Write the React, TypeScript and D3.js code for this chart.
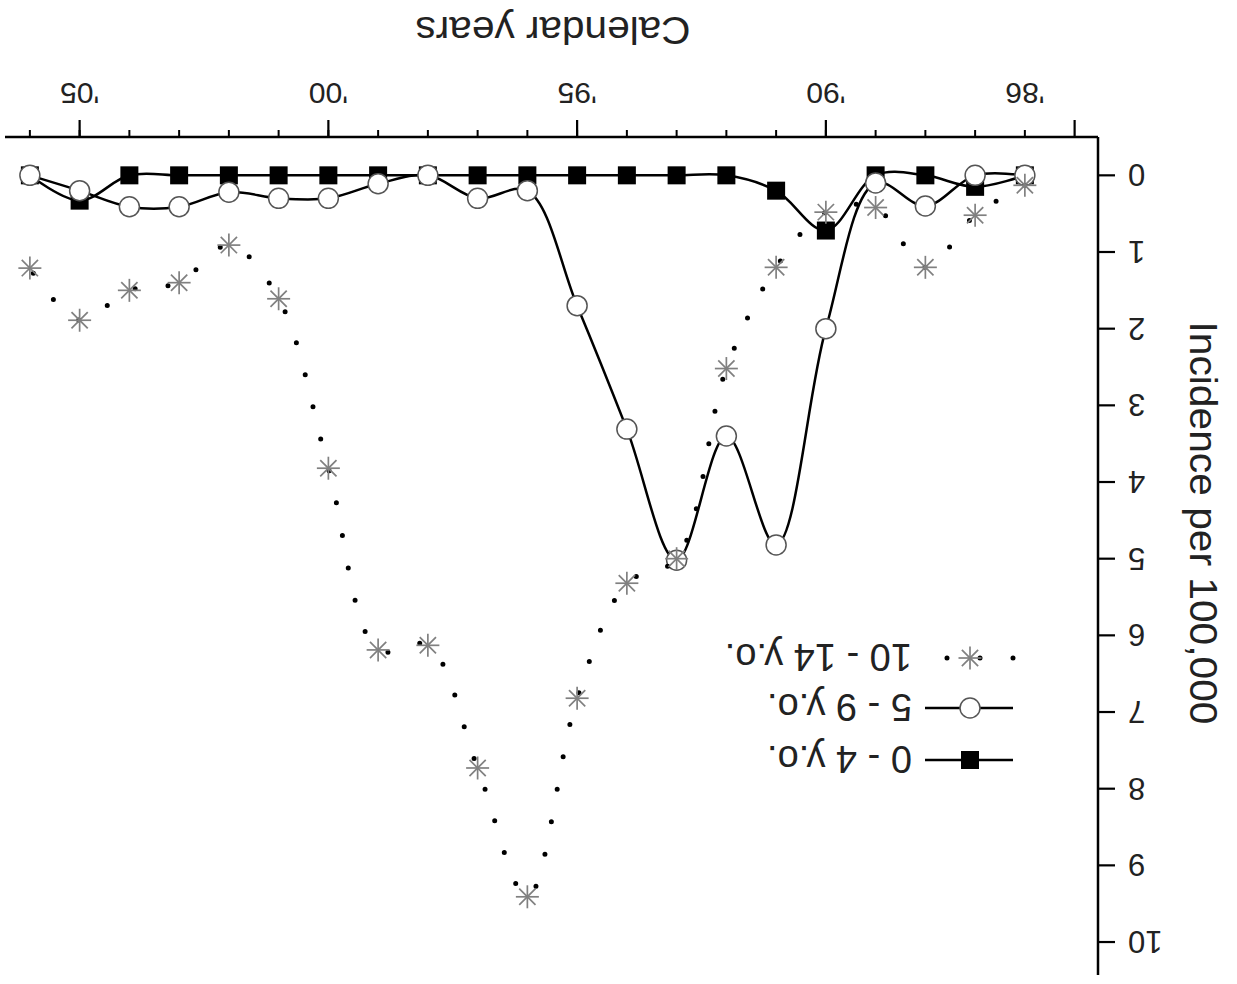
import React from "react";
import * as d3 from "d3";

const years = [1986, 1987, 1988, 1989, 1990, 1991, 1992, 1993, 1994, 1995, 1996, 1997, 1998, 1999, 2000, 2001, 2002, 2003, 2004, 2005, 2006];
const age0to4 = [0, 0.15, 0, 0, 0.72, 0.2, 0, 0, 0, 0, 0, 0, 0, 0, 0, 0, 0, 0, 0, 0.33, 0];
const age5to9 = [0, 0, 0.4, 0.1, 2.0, 4.82, 3.4, 5.02, 3.31, 1.7, 0.2, 0.3, 0, 0.11, 0.3, 0.3, 0.22, 0.41, 0.41, 0.2, 0];
const age10to14 = [0.13, 0.52, 1.2, 0.42, 0.48, 1.2, 2.52, 5.0, 5.32, 6.82, 9.41, 7.73, 6.13, 6.19, 3.82, 1.61, 0.91, 1.4, 1.5, 1.89, 1.21];

const majorTickYears = [1985, 1990, 1995, 2000, 2005];
const minorTickYears = d3.range(1986, 2007);
const xLabelYears = [1986, 1990, 1995, 2000, 2005];
const xLabels = ["'86", "'90", "'95", "'00", "'05"];
const yTicks = [0, 1, 2, 3, 4, 5, 6, 7, 8, 9, 10];
const legendLabels = ["0 - 4 y.o.", "5 - 9 y.o.", "10 - 14 y.o."];

const W = 1237;
const H = 984;
const FONT = "'Liberation Sans', Arial, Helvetica, sans-serif";

function Star({ cx, cy, r }: { cx: number; cy: number; r: number }) {
  const arms = [0, 45, 90, 135].map((a) => {
    const rad = (a * Math.PI) / 180;
    const dx = Math.cos(rad) * r;
    const dy = Math.sin(rad) * r;
    return <line key={a} x1={cx - dx} y1={cy - dy} x2={cx + dx} y2={cy + dy} />;
  });
  return <g stroke="#808080" strokeWidth={1.7}>{arms}</g>;
}

export default function App() {
  const x = d3.scaleLinear().domain([1984.53, 2006.5]).range([139, 1232]);
  const y = d3.scaleLinear().domain([-0.5, 10.43]).range([847, 9]);

  const lineGen = d3
    .line<[number, number]>()
    .x((d) => x(d[0]))
    .y((d) => y(d[1]))
    .curve(d3.curveCatmullRom.alpha(0.5));

  const pts = (vals: number[]) => years.map((yr, i) => [yr, vals[i]] as [number, number]);

  const p0 = pts(age0to4);
  const p1 = pts(age5to9);
  const p2 = pts(age10to14);

  const axisY = y.range()[0];
  const axisX = x.range()[0];

  const legendRows = [224, 276, 326];
  const legSymX = 267;
  const legLineX1 = 224;
  const legLineX2 = 312;
  const legTextX = 325;

  return (
    <svg
      width={W}
      height={H}
      style={{ position: "absolute", left: 0, top: 0, background: "#fff" }}
      fontFamily={FONT}
    >
      <rect x={0} y={0} width={W} height={H} fill="#fff" />
      <g transform={`rotate(180 ${W / 2} ${H / 2})`}>
        {/* axes */}
        <line x1={axisX} y1={axisY} x2={x.range()[1]} y2={axisY} stroke="#000" strokeWidth={2.5} />
        <line x1={axisX} y1={axisY} x2={axisX} y2={y.range()[1]} stroke="#000" strokeWidth={2.5} />
        {minorTickYears.map((yr) => (
          <line key={"mn" + yr} x1={x(yr)} x2={x(yr)} y1={axisY} y2={axisY + 7} stroke="#000" strokeWidth={2} />
        ))}
        {majorTickYears.map((yr) => (
          <line key={"mj" + yr} x1={x(yr)} x2={x(yr)} y1={axisY} y2={axisY + 17} stroke="#000" strokeWidth={2.2} />
        ))}
        {xLabelYears.map((yr, i) => (
          <text key={"xl" + yr} x={x(yr)} y={901} textAnchor="middle" fontSize={30} fill="#222">
            {xLabels[i]}
          </text>
        ))}
        {yTicks.map((t) => (
          <g key={"yt" + t}>
            <line x1={axisX - 17} x2={axisX} y1={y(t)} y2={y(t)} stroke="#000" strokeWidth={2.2} />
            <text x={109} y={y(t)} dy="0.36em" textAnchor="end" fontSize={31} fill="#222">
              {t}
            </text>
          </g>
        ))}
        <text
          x={684}
          y={954}
          textAnchor="middle"
          dominantBaseline="central"
          fontSize={38}
          textLength={275}
          lengthAdjust="spacingAndGlyphs"
          fill="#222"
        >
          Calendar years
        </text>
        <text
          transform={`translate(34 461) rotate(-90)`}
          textAnchor="middle"
          dominantBaseline="central"
          fontSize={38}
          textLength={403}
          lengthAdjust="spacingAndGlyphs"
          fill="#222"
        >
          Incidence per 100,000
        </text>

        {/* 0-4 */}
        <path d={lineGen(p0) || ""} fill="none" stroke="#000" strokeWidth={2.5} />
        {p0.map((d, i) => (
          <rect key={"sq" + i} x={x(d[0]) - 9} y={y(d[1]) - 9} width={18} height={18} fill="#000" />
        ))}
        {/* 5-9 */}
        <path d={lineGen(p1) || ""} fill="none" stroke="#000" strokeWidth={2.5} />
        {p1.map((d, i) => (
          <circle key={"ci" + i} cx={x(d[0])} cy={y(d[1])} r={10} fill="#fff" stroke="#555" strokeWidth={1.5} />
        ))}
        {/* 10-14 */}
        <path
          d={lineGen(p2) || ""}
          fill="none"
          stroke="#000"
          strokeWidth={5}
          strokeLinecap="round"
          strokeDasharray="0 33"
        />
        {p2.map((d, i) => (
          <Star key={"st" + i} cx={x(d[0])} cy={y(d[1])} r={11.5} />
        ))}

        {/* legend */}
        <line x1={legLineX1} x2={legLineX2} y1={legendRows[0]} y2={legendRows[0]} stroke="#000" strokeWidth={2.5} />
        <rect x={legSymX - 9} y={legendRows[0] - 9} width={18} height={18} fill="#000" />
        <line x1={legLineX1} x2={legLineX2} y1={legendRows[1]} y2={legendRows[1]} stroke="#000" strokeWidth={2.5} />
        <circle cx={legSymX} cy={legendRows[1]} r={10} fill="#fff" stroke="#555" strokeWidth={1.5} />
        <line
          x1={legLineX1}
          x2={legLineX2}
          y1={legendRows[2]}
          y2={legendRows[2]}
          stroke="#000"
          strokeWidth={5}
          strokeLinecap="round"
          strokeDasharray="0 33"
        />
        <Star cx={legSymX} cy={legendRows[2]} r={11.5} />
        {legendLabels.map((lbl, i) => (
          <text key={lbl} x={legTextX} y={legendRows[i]} dy="0.36em" fontSize={38} fill="#222">
            {lbl}
          </text>
        ))}
      </g>
    </svg>
  );
}
